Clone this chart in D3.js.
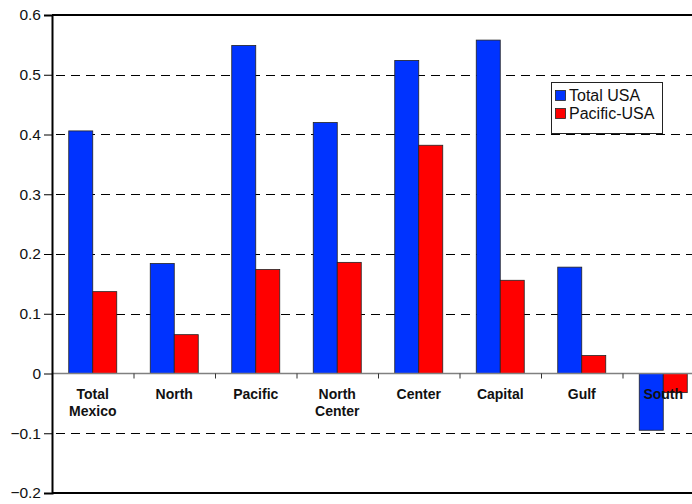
<!DOCTYPE html>
<html>
<head>
<meta charset="utf-8">
<script src="https://cdn.jsdelivr.net/npm/d3@7"></script>
<style>
  body { margin: 0; background: #fff; }
  svg { display: block; font-family: Arial, "Liberation Sans", sans-serif; }
</style>
</head>
<body>
<div id="chart"></div>
<script>
// chart data
const categories = ["Total Mexico", "North", "Pacific", "North Center", "Center", "Capital", "Gulf", "South"];
const label_lines = [["Total", "Mexico"], ["North"], ["Pacific"], ["North", "Center"], ["Center"], ["Capital"], ["Gulf"], ["South"]];
const series_names = ["Total USA", "Pacific-USA"];
const total_usa = [0.406, 0.184, 0.549, 0.420, 0.524, 0.558, 0.178, -0.095];
const pacific_usa = [0.137, 0.065, 0.174, 0.186, 0.382, 0.156, 0.030, -0.032];
const y_ticks = [-0.2, -0.1, 0, 0.1, 0.2, 0.3, 0.4, 0.5, 0.6];
const colors = ["#0033ff", "#ff0000"];

// layout
const WIDTH = 692;
const HEIGHT = 504;
const LEFT = 52;
const RIGHT = 704;
const TOP = 15;
const BOTTOM = 493;

const svg = d3.select("#chart")
    .append("svg")
    .attr("width", WIDTH)
    .attr("height", HEIGHT);

const xScale = d3.scaleBand()
    .domain(categories)
    .range([LEFT, RIGHT])
    .padding(0);

const xInner = d3.scaleBand()
    .domain(series_names)
    .range([16.75, xScale.bandwidth() - 16.75])
    .padding(0);

const yScale = d3.scaleLinear()
    .domain([-0.2, 0.6])
    .range([BOTTOM, TOP]);

// dashed gridlines
svg.append("g")
    .selectAll("line")
    .data(y_ticks.filter(d => d !== 0 && d !== -0.2 && d !== 0.6))
    .join("line")
    .attr("x1", LEFT + 4)
    .attr("x2", RIGHT)
    .attr("y1", d => Math.round(yScale(d)) + 0.5)
    .attr("y2", d => Math.round(yScale(d)) + 0.5)
    .attr("stroke", "#000")
    .attr("stroke-width", 1)
    .attr("stroke-dasharray", "9,6");

// top and bottom frame lines
svg.append("line")
    .attr("x1", LEFT).attr("x2", RIGHT)
    .attr("y1", yScale(0.6)).attr("y2", yScale(0.6))
    .attr("stroke", "#000").attr("stroke-width", 2);

svg.append("line")
    .attr("x1", LEFT).attr("x2", RIGHT)
    .attr("y1", yScale(-0.2)).attr("y2", yScale(-0.2))
    .attr("stroke", "#000").attr("stroke-width", 2);

// bars
const rows = categories.map((c, i) => ({ cat: c, values: [total_usa[i], pacific_usa[i]] }));

const groups = svg.append("g")
    .selectAll("g")
    .data(rows)
    .join("g")
    .attr("transform", d => `translate(${xScale(d.cat)},0)`);

groups.selectAll("rect")
    .data(d => d.values.map((v, j) => ({ name: series_names[j], value: v, j: j })))
    .join("rect")
    .attr("x", d => xInner(d.name))
    .attr("width", xInner.bandwidth())
    .attr("y", d => yScale(Math.max(0, d.value)))
    .attr("height", d => Math.abs(yScale(d.value) - yScale(0)))
    .attr("fill", d => colors[d.j])
    .attr("stroke", "#222")
    .attr("stroke-width", 0.8);

// zero line with category ticks
svg.append("line")
    .attr("x1", LEFT).attr("x2", RIGHT)
    .attr("y1", yScale(0)).attr("y2", yScale(0))
    .attr("stroke", "#808080").attr("stroke-width", 1.5);

svg.append("g")
    .selectAll("line")
    .data(categories.slice(1))
    .join("line")
    .attr("x1", d => xScale(d) + 0.5)
    .attr("x2", d => xScale(d) + 0.5)
    .attr("y1", yScale(0))
    .attr("y2", yScale(0) + 5)
    .attr("stroke", "#333")
    .attr("stroke-width", 1);

// y axis
const yAxis = d3.axisLeft(yScale)
    .tickValues(y_ticks)
    .tickFormat(d => d === 0 ? "0" : d3.format(".1f")(d))
    .tickSize(8)
    .tickPadding(3);

const yg = svg.append("g")
    .attr("transform", `translate(${LEFT},0)`)
    .call(yAxis);

yg.select(".domain").attr("stroke", "#000").attr("stroke-width", 2);
yg.selectAll(".tick line").attr("stroke", "#000").attr("stroke-width", 1);
yg.selectAll(".tick text")
    .attr("font-size", 15.5)
    .attr("font-family", "Arial, 'Liberation Sans', sans-serif")
    .attr("fill", "#111");

// category labels
const labels = svg.append("g")
    .selectAll("text")
    .data(categories)
    .join("text")
    .attr("x", d => xScale(d) + xScale.bandwidth() / 2)
    .attr("y", 399)
    .attr("text-anchor", "middle")
    .attr("font-size", 14)
    .attr("font-weight", "bold")
    .attr("fill", "#111");

labels.each(function(d, i) {
    d3.select(this).selectAll("tspan")
        .data(label_lines[i])
        .join("tspan")
        .attr("x", xScale(d) + xScale.bandwidth() / 2)
        .attr("dy", (t, k) => k === 0 ? 0 : 17)
        .text(t => t);
});

// legend
const legend = svg.append("g")
    .attr("transform", "translate(551,82)");

legend.append("rect")
    .attr("x", 0.5).attr("y", 0.5)
    .attr("width", 111).attr("height", 51)
    .attr("fill", "#fff")
    .attr("stroke", "#222")
    .attr("stroke-width", 1);

series_names.forEach((name, i) => {
    legend.append("rect")
        .attr("x", 4.5)
        .attr("y", 8.5 + i * 18)
        .attr("width", 10)
        .attr("height", 10)
        .attr("fill", colors[i])
        .attr("stroke", "#222")
        .attr("stroke-width", 0.8);
    legend.append("text")
        .attr("x", 18)
        .attr("y", 18.5 + i * 18)
        .attr("font-size", 16)
        .attr("fill", "#111")
        .text(name);
});
</script>
</body>
</html>
